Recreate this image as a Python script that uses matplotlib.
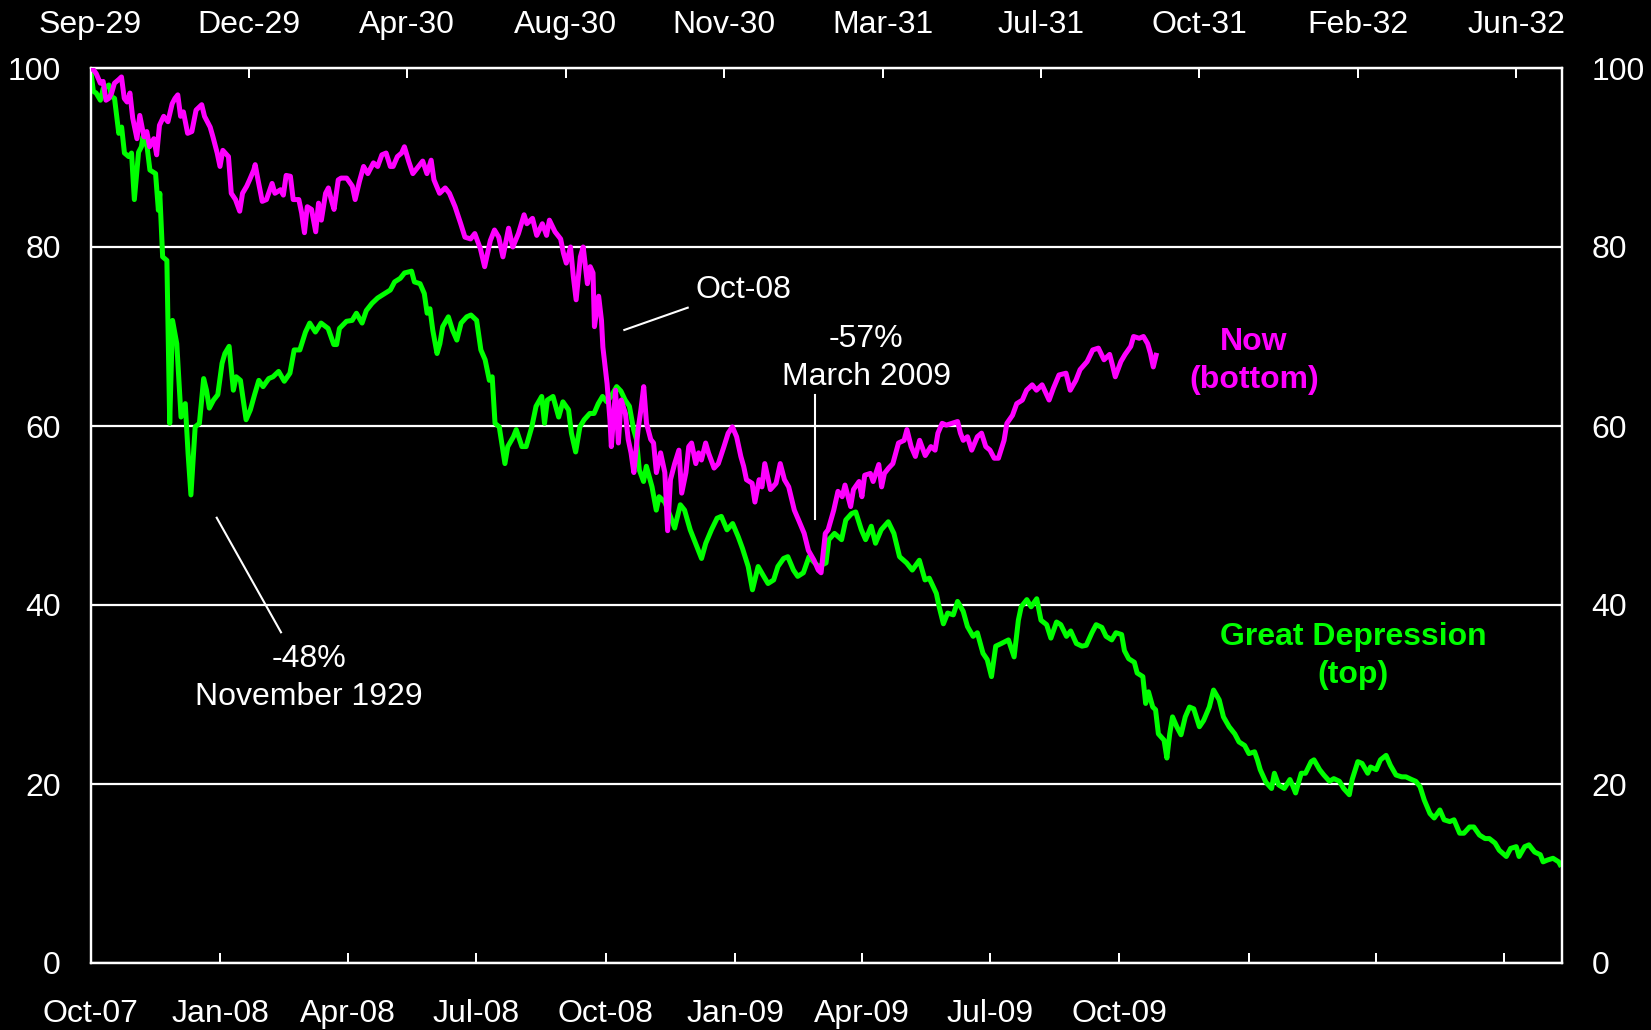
import numpy as np
import matplotlib
matplotlib.use("Agg")
import matplotlib.pyplot as plt

# Now: index, peak = 100, days after 9 Oct 2007 (bottom axis)
now_day = [0, 2, 4, 7, 9, 11, 13, 15, 17, 20, 22, 24, 26, 28, 30, 33, 35, 38, 40, 42,
           45, 47, 49, 52, 55, 58, 60, 62, 64, 66, 69, 72, 75, 79, 81, 85, 87, 90, 92, 94,
           98, 100, 103, 106, 108, 111, 113, 116, 117, 119, 122, 125, 129, 131, 135, 137, 139, 142, 144, 148,
           150, 152, 154, 157, 160, 162, 164, 167, 169, 171, 173, 176, 178, 182, 186, 188, 191, 194, 197, 201,
           204, 207, 210, 213, 215, 218, 221, 223, 226, 229, 233, 236, 239, 242, 244, 248, 252, 255, 259, 263,
           266, 270, 273, 277, 280, 284, 287, 290, 293, 297, 300, 304, 308, 310, 314, 317, 321, 324, 326, 330,
           334, 336, 338, 341, 343, 345, 348, 350, 353, 355, 357, 358, 361, 363, 364, 367, 369, 370, 373, 375,
           377, 380, 382, 384, 386, 389, 391, 393, 395, 398, 400, 402, 405, 408, 410, 412, 415, 418, 420, 423,
           425, 427, 430, 432, 434, 437, 439, 443, 446, 450, 453, 456, 459, 462, 464, 466, 470, 472, 475, 477,
           479, 483, 487, 490, 493, 496, 500, 503, 507, 510, 514, 517, 519, 522, 524, 528, 531, 534, 536, 540,
           542, 546, 548, 550, 554, 556, 560, 562, 564, 567, 570, 574, 578, 580, 583, 586, 589, 593, 597, 600,
           602, 605, 608, 612, 616, 618, 620, 623, 626, 630, 633, 636, 639, 642, 645, 649, 651, 655, 658, 662,
           665, 669, 672, 676, 681, 684, 688, 693, 696, 700, 703, 708, 712, 716, 720, 724, 726, 728, 732, 735,
           739, 741, 745, 748, 751, 753, 755, 757]
now_val = [100.0, 99.8, 99.4, 98.3, 98.5, 96.4, 96.6, 97.2, 98.3, 98.7, 99.0, 96.6, 96.2, 97.2, 94.4, 92.1, 94.7, 92.3, 92.9, 91.2,
           92.1, 90.3, 93.6, 94.6, 94.0, 96.0, 96.6, 97.0, 94.6, 95.1, 92.7, 92.9, 95.3, 95.9, 94.6, 93.4, 92.3, 90.5, 89.0, 90.8,
           90.1, 86.0, 85.3, 84.0, 86.0, 86.8, 87.5, 88.6, 89.2, 87.5, 85.1, 85.3, 87.1, 86.0, 86.4, 85.8, 88.0, 87.9, 85.3, 85.3,
           83.8, 81.6, 84.5, 84.2, 81.7, 84.9, 83.0, 86.0, 86.6, 85.3, 84.2, 87.5, 87.7, 87.7, 86.8, 85.3, 87.3, 89.0, 88.2, 89.4,
           89.0, 90.3, 90.5, 89.0, 89.0, 90.1, 90.5, 91.2, 89.6, 88.2, 89.0, 89.6, 88.2, 89.7, 87.5, 86.0, 86.6, 86.0, 84.5, 82.6,
           81.1, 80.9, 81.5, 79.8, 77.8, 80.7, 81.9, 81.1, 78.9, 82.1, 80.0, 81.5, 83.6, 82.6, 83.2, 81.3, 82.6, 81.3, 83.0, 81.7,
           80.9, 79.3, 78.2, 80.0, 76.7, 74.1, 78.9, 80.0, 75.9, 77.8, 77.1, 71.1, 74.5, 71.8, 68.8, 64.7, 60.7, 57.7, 64.0, 58.1,
           62.9, 61.4, 58.5, 57.0, 54.8, 59.6, 61.8, 64.4, 60.3, 58.5, 58.1, 54.8, 57.0, 54.8, 48.3, 54.0, 55.8, 57.3, 52.5, 54.8,
           57.7, 58.1, 55.8, 57.0, 56.2, 58.1, 57.0, 55.3, 55.8, 57.7, 59.2, 59.9, 58.8, 56.6, 55.5, 54.0, 53.6, 51.5, 54.0, 53.2,
           55.8, 52.9, 53.6, 55.8, 54.0, 53.2, 50.6, 49.5, 48.0, 46.1, 45.0, 43.9, 43.6, 48.0, 48.4, 50.6, 52.7, 52.1, 53.4, 51.0,
           52.9, 53.8, 52.1, 54.5, 54.7, 53.8, 55.7, 53.2, 54.7, 55.3, 55.8, 58.1, 58.4, 59.6, 57.7, 56.6, 58.4, 56.7, 57.7, 57.3,
           59.2, 60.3, 60.1, 60.3, 60.5, 59.2, 58.4, 58.8, 57.3, 58.8, 59.2, 57.7, 57.3, 56.4, 56.4, 58.4, 60.3, 61.2, 62.5, 62.9,
           64.0, 64.6, 64.0, 64.6, 62.9, 64.2, 65.7, 65.9, 64.0, 65.1, 66.3, 67.2, 68.5, 68.7, 67.4, 68.0, 66.8, 65.5, 67.2, 68.0,
           68.9, 70.0, 69.8, 70.0, 69.2, 68.1, 66.6, 67.9]

# Great Depression: Dow, peak = 100, days after 3 Sep 1929 (top axis)
dep_day = [0, 2, 4, 7, 9, 13, 15, 17, 20, 22, 24, 27, 29, 31, 34, 36, 37, 40, 42, 46,
           48, 49, 51, 54, 56, 58, 61, 64, 67, 69, 71, 74, 77, 80, 82, 84, 87, 90, 93, 95,
           98, 101, 103, 106, 110, 113, 116, 119, 122, 126, 129, 133, 137, 141, 144, 148, 152, 155, 159, 163,
           168, 172, 174, 176, 181, 185, 188, 192, 195, 199, 203, 208, 212, 215, 219, 222, 227, 229, 233, 236,
           238, 240, 242, 245, 247, 249, 253, 256, 259, 262, 266, 269, 273, 276, 279, 282, 284, 286, 289, 293,
           295, 299, 301, 305, 308, 312, 315, 319, 321, 323, 327, 331, 334, 338, 340, 343, 346, 349, 353, 356,
           359, 362, 365, 368, 372, 375, 378, 381, 384, 386, 388, 391, 393, 397, 400, 402, 406, 410, 413, 417,
           420, 424, 427, 432, 435, 439, 443, 446, 450, 454, 458, 461, 465, 468, 472, 476, 479, 483, 486, 490,
           493, 497, 500, 504, 508, 512, 515, 520, 522, 526, 531, 534, 538, 541, 545, 548, 552, 555, 559, 564,
           568, 572, 577, 581, 586, 590, 593, 598, 600, 603, 606, 610, 613, 617, 620, 624, 627, 631, 634, 637,
           640, 644, 649, 653, 656, 658, 662, 665, 669, 672, 676, 679, 683, 686, 690, 693, 697, 701, 704, 708,
           711, 715, 718, 722, 725, 729, 731, 734, 738, 740, 744, 746, 748, 751, 753, 755, 759, 761, 763, 765,
           768, 771, 774, 777, 780, 784, 787, 791, 794, 798, 801, 805, 809, 812, 816, 819, 823, 825, 827, 831,
           835, 837, 840, 844, 848, 850, 852, 856, 859, 863, 865, 869, 872, 876, 879, 883, 886, 890, 892, 896,
           899, 903, 905, 909, 912, 916, 919, 923, 927, 930, 934, 937, 940, 943, 947, 950, 954, 957, 961, 964,
           968, 971, 975, 978, 982, 986, 989, 993, 996, 1001, 1004, 1008, 1010, 1014, 1017, 1021, 1025, 1027, 1030, 1034,
           1038, 1039]
dep_val = [100.0, 97.4, 97.2, 96.4, 97.7, 98.1, 96.8, 96.6, 92.7, 93.4, 90.5, 90.1, 90.5, 85.3, 90.6, 91.2, 92.3, 91.2, 88.6, 88.2,
           84.1, 86.0, 78.9, 78.5, 60.3, 71.8, 69.2, 61.0, 62.5, 56.9, 52.3, 59.9, 60.3, 65.3, 64.0, 62.0, 62.9, 63.5, 67.0, 68.1,
           68.9, 64.0, 65.5, 65.1, 60.7, 61.8, 63.5, 65.1, 64.4, 65.3, 65.5, 66.1, 65.0, 65.9, 68.5, 68.5, 70.5, 71.5, 70.5, 71.5,
           70.9, 69.1, 69.1, 70.9, 71.7, 71.8, 72.6, 71.5, 72.9, 73.7, 74.3, 74.8, 75.2, 76.1, 76.5, 77.1, 77.3, 76.1, 75.9, 74.8,
           72.6, 73.1, 70.7, 68.1, 69.2, 71.1, 72.2, 70.7, 69.6, 71.5, 72.2, 72.4, 71.8, 68.5, 67.4, 65.1, 65.5, 60.3, 59.9, 55.8,
           57.7, 58.8, 59.6, 57.7, 57.7, 59.9, 62.2, 63.3, 60.3, 62.9, 63.3, 61.0, 62.7, 61.8, 59.2, 57.1, 59.9, 60.7, 61.4, 61.4,
           62.5, 63.3, 62.7, 63.3, 64.4, 63.9, 62.9, 62.2, 59.6, 58.5, 55.1, 53.8, 55.5, 53.2, 50.6, 52.1, 51.5, 49.9, 48.6, 51.2,
           50.6, 48.4, 47.2, 45.2, 46.9, 48.4, 49.7, 49.9, 48.4, 49.1, 47.6, 46.3, 44.3, 41.7, 44.3, 43.2, 42.4, 42.8, 44.3, 45.2,
           45.4, 43.9, 43.2, 43.6, 45.4, 44.7, 44.3, 44.7, 47.3, 48.0, 47.3, 49.5, 50.2, 50.4, 48.4, 47.3, 48.8, 46.9, 48.4, 49.3,
           48.0, 45.4, 44.7, 43.9, 45.0, 42.8, 43.0, 41.3, 39.8, 37.9, 39.1, 38.9, 40.4, 39.3, 37.6, 36.5, 36.9, 34.6, 33.9, 32.0,
           35.4, 35.7, 36.1, 34.2, 38.3, 39.8, 40.6, 39.8, 40.7, 38.3, 37.8, 36.3, 38.1, 37.8, 36.5, 37.1, 35.7, 35.4, 35.5, 36.9,
           37.8, 37.5, 36.5, 36.1, 36.9, 36.7, 34.9, 34.0, 33.6, 32.4, 32.0, 29.0, 30.3, 28.6, 28.3, 25.6, 24.9, 22.9, 25.6, 27.5,
           26.4, 25.5, 27.5, 28.6, 28.4, 26.4, 27.1, 28.6, 30.5, 29.4, 27.5, 26.4, 25.6, 24.7, 24.3, 23.4, 23.6, 22.7, 21.6, 20.2,
           19.5, 21.2, 19.9, 19.5, 20.5, 19.8, 19.0, 21.2, 21.2, 22.5, 22.7, 21.6, 21.0, 20.3, 20.6, 20.3, 19.5, 18.8, 20.5, 22.5,
           22.3, 21.2, 21.9, 21.6, 22.7, 23.2, 22.1, 21.0, 20.8, 20.8, 20.5, 20.3, 19.7, 18.2, 16.7, 16.2, 17.1, 16.0, 15.8, 16.0,
           14.5, 14.5, 15.2, 15.2, 14.3, 13.9, 13.9, 13.4, 12.6, 11.9, 12.8, 13.0, 11.9, 13.0, 13.2, 12.4, 12.1, 11.3, 11.5, 11.7,
           11.3, 11.0]

bottom_labels = ["Oct-07", "Jan-08", "Apr-08", "Jul-08", "Oct-08", "Jan-09",
                 "Apr-09", "Jul-09", "Oct-09", "", "", ""]
top_labels = ["Sep-29", "Dec-29", "Apr-30", "Aug-30", "Nov-30", "Mar-31",
              "Jul-31", "Oct-31", "Feb-32", "Jun-32"]
y_ticks = [0, 20, 40, 60, 80, 100]

# tick positions in days from each series' start
now_start = np.datetime64("2007-10-09")
quarters = (np.datetime64("2007-10") + np.arange(12) * 3).astype("datetime64[D]") + 8
bottom_ticks = (quarters - now_start).astype(int)
top_ticks = np.arange(len(top_labels)) * 112

plt.rcParams["font.family"] = ["Liberation Sans", "DejaVu Sans"]
FS = 23
LS = 1.35
GREEN = "#00ff00"
MAGENTA = "#ff00ff"

fig = plt.figure(figsize=(16.51, 10.30), dpi=100, facecolor="black")
ax = fig.add_axes([90.5 / 1651, 1 - 963 / 1030, 1471 / 1651, 895 / 1030])
ax.set_facecolor("black")
ax_now = ax.twiny()   # magenta on this one, drawn above the green

# --- Great Depression, top date axis
ax.plot(dep_day, dep_val, color=GREEN, lw=3.6, zorder=3)
ax.set_xlim(0, 1040)
ax.set_ylim(0, 100)
ax.set_yticks(y_ticks)
ax.grid(axis="y", color="white", lw=1.6)
ax.set_axisbelow(True)
ax.xaxis.tick_top()
ax.set_xticks(top_ticks, top_labels)
ax.tick_params(axis="x", direction="in", length=7.2, width=1.44, colors="white",
               labelsize=FS, pad=20, top=True, bottom=False, labeltop=True, labelbottom=False)
ax.tick_params(axis="y", left=False, right=False, labelleft=True, labelright=True,
               colors="white", labelsize=FS, pad=18)

# --- Now, bottom date axis
ax_now.plot(now_day, now_val, color=MAGENTA, lw=3.6, zorder=3)
ax_now.set_xlim(0, 1045)
ax_now.xaxis.tick_bottom()
ax_now.set_xticks(bottom_ticks, bottom_labels)
ax_now.tick_params(axis="x", direction="in", length=7.2, width=1.44, colors="white",
                   labelsize=FS, pad=26, bottom=True, top=False, labelbottom=True, labeltop=False)

for a in (ax, ax_now):
    for s in a.spines.values():
        s.set_color("white")
        s.set_linewidth(1.6)

# annotations
tr = ax_now.transAxes
ax_now.text(0.4436, 0.752, "Oct-08", color="white", fontsize=FS, ha="center", va="center", transform=tr)
ax_now.plot([0.3629, 0.4060], [0.7073, 0.7322], color="white", lw=1.5, transform=tr)

ax_now.text(0.5272, 0.676, "-57%\nMarch 2009", color="white", fontsize=FS, ha="center", va="center",
            linespacing=LS, transform=tr)
ax_now.plot([0.4925, 0.4925], [0.6346, 0.4961], color="white", lw=1.5, transform=tr)

ax_now.text(0.1485, 0.3184, "-48%\nNovember 1929", color="white", fontsize=FS, ha="center", va="center",
            linespacing=LS, transform=tr)
ax_now.plot([0.0858, 0.1295], [0.4975, 0.3695], color="white", lw=1.5, transform=tr)

ax_now.text(0.7910, 0.6726, "Now\n(bottom)", color=MAGENTA, fontsize=FS, fontweight="bold",
            ha="center", va="center", linespacing=LS, transform=tr)
ax_now.text(0.8583, 0.343, "Great Depression\n(top)", color=GREEN, fontsize=FS, fontweight="bold",
            ha="center", va="center", linespacing=LS, transform=tr)

fig.savefig("out.png", dpi=100, facecolor="black")
